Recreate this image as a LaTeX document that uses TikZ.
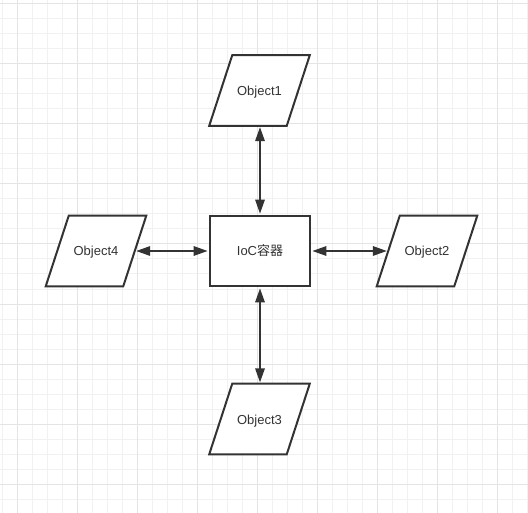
\documentclass[tikz,border=0pt]{standalone}
\usepackage{fontspec}
\setmainfont{Liberation Sans}
\newfontfamily\cjkfont{Noto Sans CJK SC}
\usetikzlibrary{arrows.meta,backgrounds}
\pgfdeclarelayer{gridlayer}
\pgfsetlayers{gridlayer,background,main}
\definecolor{gridminor}{HTML}{F1F1F1}
\definecolor{gridmajor}{HTML}{E4E4E4}
\definecolor{ink}{HTML}{333333}
\tikzset{
  px/.style={x=0.75pt,y=-0.75pt},
  objbox/.style={rectangle, minimum width=77*0.75pt, minimum height=70*0.75pt,
    inner sep=0pt, text=ink, font=\fontsize{9.75pt}{11pt}\selectfont,
    text height=7.5pt, text depth=0pt},
  iocbox/.style={rectangle, minimum width=100*0.75pt, minimum height=70*0.75pt,
    inner sep=0pt, draw=ink, line width=1.5pt, fill=white, text=ink,
    font=\fontsize{9.75pt}{11pt}\selectfont, text height=7.5pt, text depth=0pt},
  parashape/.style={draw=ink, line width=1.5pt, fill=white, line join=miter},
  link/.style={draw=ink, line width=1.5pt,
    {Triangle[length=10.5pt,width=7pt]}-{Triangle[length=10.5pt,width=7pt]},
    shorten <=1pt, shorten >=1pt}
}
\begin{document}
\begin{tikzpicture}[px]
\useasboundingbox (0,0) rectangle (528,513);
\begin{pgfonlayer}{gridlayer}
\fill[white] (0,0) rectangle (528,513);
\foreach \i in {0,...,35} {
  \pgfmathsetmacro{\xx}{2.3+15*\i}
  \draw[gridminor, line width=0.75pt] (\xx,0) -- (\xx,513);
}
\foreach \i in {0,...,34} {
  \pgfmathsetmacro{\yy}{4+15*\i}
  \draw[gridminor, line width=0.75pt] (0,\yy) -- (528,\yy);
}
\foreach \i in {0,...,8} {
  \pgfmathsetmacro{\xx}{17.3+60*\i}
  \draw[gridmajor, line width=0.75pt] (\xx,0) -- (\xx,513);
}
\foreach \i in {0,...,8} {
  \pgfmathsetmacro{\yy}{4+60*\i}
  \draw[gridmajor, line width=0.75pt] (0,\yy) -- (528,\yy);
}
\end{pgfonlayer}
% nodes
\node[iocbox] (ioc) at (260,251) {IoC{\cjkfont 容器}};
\node[objbox] (o1) at (259.5,90.5) {Object1};
\node[objbox] (o2) at (427,251) {Object2};
\node[objbox] (o3) at (259.5,419) {Object3};
\node[objbox] (o4) at (96,251) {Object4};
% parallelogram outlines behind the labels
\begin{scope}[on background layer]
\foreach \n in {o1,o2,o3,o4} {
  \draw[parashape] ([xshift=11.5*0.75pt]\n.north west) -- ([xshift=11.5*0.75pt]\n.north east)
    -- ([xshift=-11.5*0.75pt]\n.south east) -- ([xshift=-11.5*0.75pt]\n.south west) -- cycle;
}
\end{scope}
% connectors
\draw[link] (o1.south -| ioc.north) -- (ioc.north);
\draw[link] (o3.north -| ioc.south) -- (ioc.south);
\draw[link] (o4) -- (ioc);
\draw[link] (o2) -- (ioc);
\end{tikzpicture}
\end{document}
